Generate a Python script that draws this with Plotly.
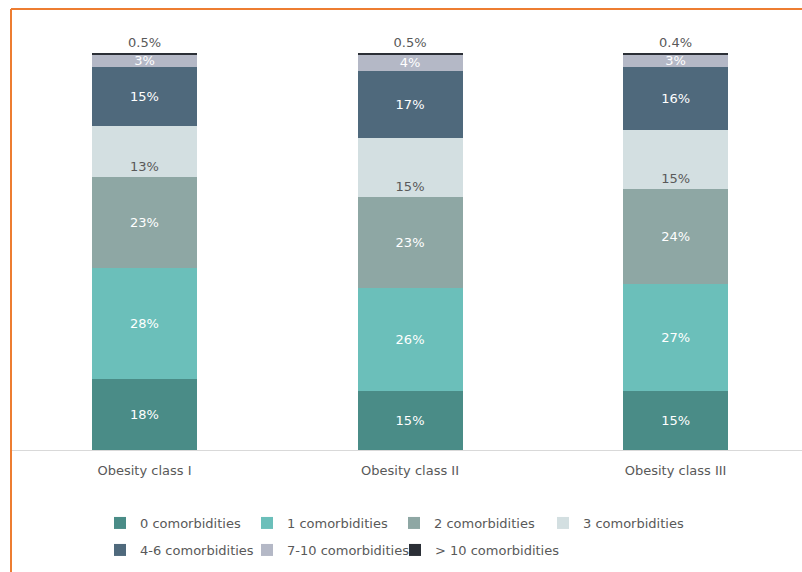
import plotly.graph_objects as go

categories = ["Obesity class I", "Obesity class II", "Obesity class III"]
series_names = ["0 comorbidities", "1 comorbidities", "2 comorbidities", "3 comorbidities",
                "4-6 comorbidities", "7-10 comorbidities", "> 10 comorbidities"]
v0 = [18, 15, 15]
v1 = [28, 26, 27]
v2 = [23, 23, 24]
v3 = [13, 15, 15]
v46 = [15, 17, 16]
v710 = [3, 4, 3]
v10p = [0.5, 0.5, 0.4]

series_values = [v0, v1, v2, v3, v46, v710, v10p]
colors = ["#4a8c87", "#6bbfba", "#8ea7a4", "#d3dfe1", "#4f697c", "#b4b8c6", "#2b2f36"]
text_colors = ["#ffffff", "#ffffff", "#ffffff", "#595959", "#ffffff", "#ffffff", "#595959"]

FONT = "DejaVu Sans"


def px_to_paper_x(px):
    return (px - 12) / 790


def py_to_paper_y(py):
    return (450 - py) / 397


# legend entry anchor positions (pixels): one small legend per entry, laid out as 2 rows
legend_pos_px = [(100, 523), (247, 523), (394, 523), (543, 523),
                 (100, 550), (247, 550), (395, 550)]

fig = go.Figure()
for i, (name, vals) in enumerate(zip(series_names, series_values)):
    if i == 6:
        kw = dict(textposition="outside", outsidetextfont=dict(color="#595959", size=13, family=FONT))
    elif i == 3:
        kw = dict(textposition="inside", insidetextanchor="start",
                  insidetextfont=dict(color=text_colors[i], size=13, family=FONT))
    else:
        kw = dict(textposition="inside", insidetextanchor="middle",
                  insidetextfont=dict(color=text_colors[i], size=13, family=FONT))
    fig.add_trace(go.Bar(
        x=categories, y=vals, name=name,
        marker=dict(color=colors[i], line=dict(width=0)),
        text=[f"{v:g}%" for v in vals],
        texttemplate="%{text}",
        constraintext="none",
        cliponaxis=False,
        hoverinfo="skip",
        legend="legend" if i == 0 else f"legend{i + 1}",
        **kw,
    ))

legends = {}
for i, (lx, ly) in enumerate(legend_pos_px):
    key = "legend" if i == 0 else f"legend{i + 1}"
    legends[key] = dict(
        orientation="h",
        x=px_to_paper_x(lx), xanchor="left",
        y=py_to_paper_y(ly), yanchor="middle",
        font=dict(size=13, color="#595959", family=FONT),
        itemclick=False, itemdoubleclick=False,
        bgcolor="rgba(0,0,0,0)",
    )

fig.update_layout(
    barmode="stack",
    bargap=0.605,
    width=802, height=572,
    margin=dict(l=12, r=0, t=53, b=122),
    paper_bgcolor="white",
    plot_bgcolor="white",
    font=dict(family=FONT, size=13, color="#595959"),
    showlegend=True,
    hovermode=False,
    **legends,
)
fig.update_xaxes(
    range=[-0.499, 2.476],
    showline=True, linecolor="#d9d9d9", linewidth=1,
    ticks="", ticklabelstandoff=8, showgrid=False, zeroline=False,
    tickfont=dict(size=13, color="#595959", family=FONT),
)
fig.update_yaxes(range=[0, 100.5], visible=False, showgrid=False, zeroline=False)

# orange frame around the picture (left and top edges)
fig.add_shape(type="line", xref="paper", yref="paper",
              x0=px_to_paper_x(11), x1=px_to_paper_x(11), y0=py_to_paper_y(9), y1=py_to_paper_y(580),
              line=dict(color="#ed7d31", width=2))
fig.add_shape(type="line", xref="paper", yref="paper",
              x0=px_to_paper_x(11), x1=1.0, y0=py_to_paper_y(9), y1=py_to_paper_y(9),
              line=dict(color="#ed7d31", width=2))

fig.write_html("out.html", config={"displayModeBar": False},
               post_script="document.body.style.margin='0px';")
